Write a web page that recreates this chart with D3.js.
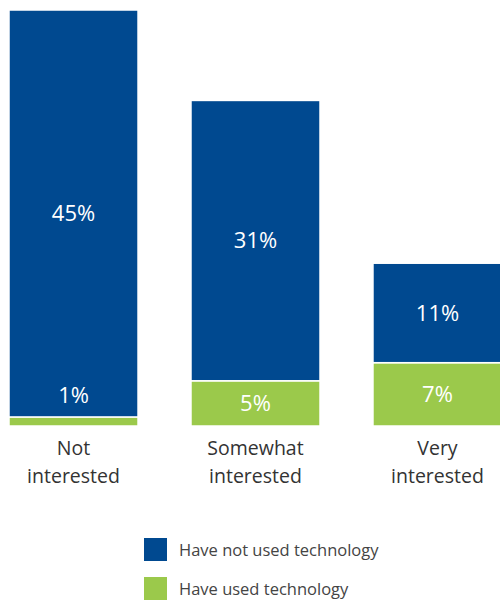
<!DOCTYPE html>
<html>
<head>
<meta charset="utf-8">
<script src="https://cdn.jsdelivr.net/npm/d3@7"></script>
<style>
  body { margin: 0; background: #fff; }
  svg { display: block; font-family: "Open Sans", "Noto Sans", sans-serif; }
</style>
</head>
<body>
<script>
// chart data
var categories = ["Not interested", "Somewhat interested", "Very interested"];
var notUsed = [45, 31, 11];   // have not used technology
var used = [1, 5, 7];         // have used technology
var seriesNames = ["Have not used technology", "Have used technology"];
var colors = ["#004990", "#9bc94b"];

var w = 500, h = 602;
var baseline = 426;

var svg = d3.select("body").append("svg")
    .attr("width", w)
    .attr("height", h);

// x positions of the bars (last bar runs off the right edge)
var x = d3.scaleBand()
    .domain(categories)
    .range([9, 502])
    .paddingInner(0.291)
    .paddingOuter(0);

// % -> px
var y = d3.scaleLinear()
    .domain([0, 46])
    .range([baseline, 10]);

var rows = categories.map(function(c, i) {
  return { cat: c, used: used[i], notUsed: notUsed[i] };
});

var stack = d3.stack().keys(["used", "notUsed"]);
var layers = stack(rows);

var g = svg.selectAll("g.layer")
    .data(layers)
    .enter().append("g")
    .attr("class", "layer")
    .attr("fill", function(d, i) { return colors[i === 0 ? 1 : 0]; });

g.selectAll("rect")
    .data(function(d) { return d; })
    .enter().append("rect")
    .attr("x", function(d) { return x(d.data.cat); })
    .attr("width", x.bandwidth())
    .attr("y", function(d) { return y(d[1]); })
    .attr("height", function(d) { return y(d[0]) - y(d[1]); })
    .attr("stroke", "#fff")
    .attr("stroke-width", 1.5);

// value labels drawn after all bars; tiny segments get their label pushed up into the bar above
var segs = [];
layers.forEach(function(l) { l.forEach(function(d) { segs.push(d); }); });

svg.selectAll("text.val")
    .data(segs)
    .enter().append("text")
    .attr("class", "val")
    .attr("x", function(d) { return x(d.data.cat) + x.bandwidth() / 2; })
    .attr("y", function(d) {
      var top = y(d[1]), bot = y(d[0]);
      if (bot - top < 25) return top - 22;
      return (top + bot) / 2;
    })
    .attr("dy", "0.35em")
    .attr("text-anchor", "middle")
    .attr("fill", "#fff")
    .attr("font-size", 22)
    .text(function(d) { return (d[1] - d[0]) + "%"; });

// category labels
var lab = svg.selectAll("text.cat")
    .data(categories)
    .enter().append("text")
    .attr("class", "cat")
    .attr("text-anchor", "middle")
    .attr("fill", "#333")
    .attr("font-size", 19.5)
    .attr("x", function(d) { return x(d) + x.bandwidth() / 2; })
    .attr("y", 455);

lab.append("tspan")
    .attr("x", function(d) { return x(d) + x.bandwidth() / 2; })
    .text(function(d) { return d.split(" ")[0]; });
lab.append("tspan")
    .attr("x", function(d) { return x(d) + x.bandwidth() / 2; })
    .attr("dy", 28)
    .text(function(d) { return d.split(" ")[1]; });

// legend
var leg = svg.selectAll("g.leg")
    .data(seriesNames)
    .enter().append("g")
    .attr("class", "leg")
    .attr("transform", function(d, i) { return "translate(144," + (538 + i * 39) + ")"; });

leg.append("rect")
    .attr("width", 23)
    .attr("height", 23)
    .attr("fill", function(d, i) { return colors[i]; });

leg.append("text")
    .attr("x", 35)
    .attr("y", 12)
    .attr("dy", "0.35em")
    .attr("fill", "#444")
    .attr("font-size", 16.5)
    .text(function(d) { return d; });
</script>
</body>
</html>
